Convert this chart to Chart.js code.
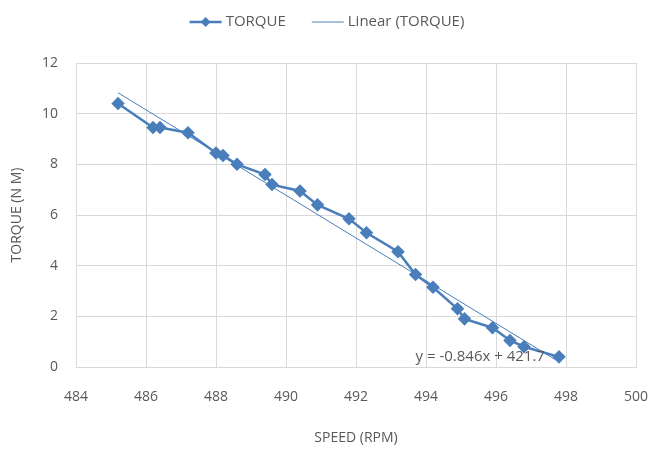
<!DOCTYPE html>
<html>
<head>
<meta charset="utf-8">
<script src="https://cdn.jsdelivr.net/npm/chart.js@4"></script>
<style>
  html, body { margin: 0; padding: 0; background: #fff; }
  #wrap { width: 654px; height: 452px; }
</style>
</head>
<body>
<div id="wrap"><canvas id="torqueChart" width="654" height="452"></canvas></div>
<script>
// values
const speedRpm = [485.2, 486.2, 486.4, 487.2, 488.0, 488.2, 488.6, 489.4, 489.6, 490.4, 490.9,
                  491.8, 492.3, 493.2, 493.7, 494.2, 494.9, 495.1, 495.9, 496.4, 496.8, 497.8];
const torqueNm = [10.4, 9.45, 9.45, 9.25, 8.45, 8.35, 8.0, 7.6, 7.2, 6.95, 6.4,
                  5.85, 5.3, 4.55, 3.65, 3.15, 2.3, 1.9, 1.55, 1.05, 0.8, 0.4];
const xTicks = [484, 486, 488, 490, 492, 494, 496, 498, 500];
const yTicks = [0, 2, 4, 6, 8, 10, 12];
const seriesName = "TORQUE";
const trendName = "Linear (TORQUE)";
const equationText = "y = -0.846x + 421.7";

const blue = "#4a7ebb";
const grey = "#595959";
const font = "'Open Sans', sans-serif";

// least squares line, like Excel's linear trendline
const n = speedRpm.length;
const mx = speedRpm.reduce((a, b) => a + b, 0) / n;
const my = torqueNm.reduce((a, b) => a + b, 0) / n;
let sxy = 0, sxx = 0;
speedRpm.forEach((x, i) => { sxy += (x - mx) * (torqueNm[i] - my); sxx += (x - mx) ** 2; });
const slope = sxy / sxx;
const icept = my - slope * mx;
const xMin = Math.min(...speedRpm), xMax = Math.max(...speedRpm);
const trendPts = [{ x: xMin, y: slope * xMin + icept }, { x: xMax, y: slope * xMax + icept }];

const points = speedRpm.map((x, i) => ({ x, y: torqueNm[i] }));

// legend + equation drawn by hand (Excel style)
const extras = {
  id: "extras",
  afterDraw(chart) {
    const ctx = chart.ctx;
    ctx.save();
    ctx.font = "15px " + font;
    ctx.fillStyle = grey;
    ctx.textBaseline = "middle";
    const lineW = 32, gap = 4, itemGap = 26;
    const w1 = ctx.measureText(seriesName).width, w2 = ctx.measureText(trendName).width;
    const total = lineW + gap + w1 + itemGap + lineW + gap + w2;
    let x = 327 - total / 2;
    const y = 22;
    ctx.strokeStyle = blue;
    ctx.lineWidth = 2.5;
    ctx.beginPath(); ctx.moveTo(x, y); ctx.lineTo(x + lineW, y); ctx.stroke();
    ctx.fillStyle = blue;
    ctx.beginPath();
    const cx = x + lineW / 2;
    ctx.moveTo(cx, y - 5); ctx.lineTo(cx + 5, y); ctx.lineTo(cx, y + 5); ctx.lineTo(cx - 5, y);
    ctx.closePath(); ctx.fill();
    x += lineW + gap;
    ctx.fillStyle = grey;
    ctx.fillText(seriesName, x, y);
    x += w1 + itemGap;
    ctx.lineWidth = 1;
    ctx.beginPath(); ctx.moveTo(x, y); ctx.lineTo(x + lineW, y); ctx.stroke();
    x += lineW + gap;
    ctx.fillText(trendName, x, y);

    // trendline equation near the last point
    const sx = chart.scales.x, sy = chart.scales.y;
    ctx.fillText(equationText, sx.getPixelForValue(493.7), sy.getPixelForValue(0.4));
    ctx.restore();
  }
};

new Chart(document.getElementById("torqueChart"), {
  type: "scatter",
  data: {
    datasets: [
      {
        label: seriesName,
        data: points,
        showLine: true,
        borderColor: blue,
        backgroundColor: blue,
        borderWidth: 2.5,
        pointStyle: "rectRot",
        pointRadius: 5,
        pointHoverRadius: 5,
        order: 1
      },
      {
        label: trendName,
        data: trendPts,
        showLine: true,
        borderColor: blue,
        borderWidth: 1,
        pointRadius: 0,
        order: 2
      }
    ]
  },
  options: {
    responsive: false,
    animation: false,
    layout: { padding: { top: 63, right: 18, bottom: 0, left: 0 } },
    plugins: { legend: { display: false }, tooltip: { enabled: false } },
    scales: {
      x: {
        type: "linear",
        min: 484, max: 500,
        afterBuildTicks: s => { s.ticks = xTicks.map(v => ({ value: v })); },
        afterFit: s => { s.height = 85; s.paddingLeft = 0; s.paddingRight = 0; },
        grid: { color: "#d9d9d9", drawTicks: false },
        border: { color: "#d9d9d9" },
        ticks: { color: grey, font: { family: font, size: 14 }, padding: 22 },
        title: { display: true, text: "SPEED (RPM)", color: grey, font: { family: font, size: 14 }, padding: { top: 0, bottom: 6 } }
      },
      y: {
        min: 0, max: 12,
        afterBuildTicks: s => { s.ticks = yTicks.map(v => ({ value: v })); },
        afterFit: s => { s.width = 76; s.paddingTop = 0; s.paddingBottom = 0; },
        grid: { color: "#d9d9d9", drawTicks: false },
        border: { color: "#d9d9d9" },
        ticks: { color: grey, font: { family: font, size: 14 }, padding: 18 },
        title: { display: true, text: "TORQUE (N M)", color: grey, font: { family: font, size: 14 }, padding: { top: 9, bottom: 0 } }
      }
    }
  },
  plugins: [extras]
});
</script>
</body>
</html>
